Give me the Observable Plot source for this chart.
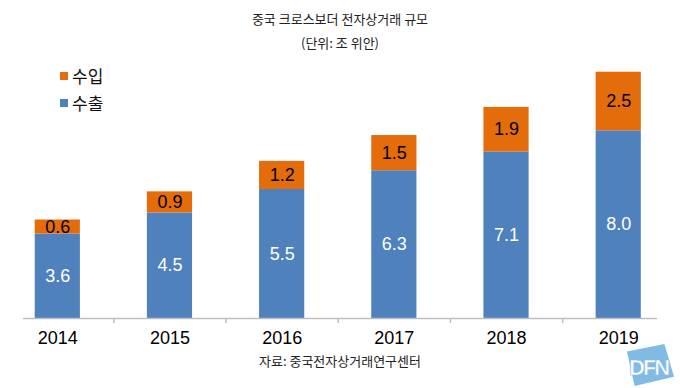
<!DOCTYPE html>
<html><head><meta charset="utf-8">
<script src="https://cdn.jsdelivr.net/npm/d3@7"></script>
<script src="https://cdn.jsdelivr.net/npm/@observablehq/plot@0.6"></script>
<style>
html,body{margin:0;padding:0;background:#fff;}
body{width:680px;height:388px;overflow:hidden;position:relative;font-family:"Noto Sans CJK KR","Noto Sans",sans-serif;}
#title{position:absolute;left:0;top:10px;width:680px;text-align:center;font-size:13px;line-height:18px;color:#222;}
#subtitle{position:absolute;left:0;top:34px;width:680px;text-align:center;font-size:13px;line-height:18px;color:#222;}
#chart{position:absolute;left:0;top:58px;}
#legend{position:absolute;left:60px;top:62px;font-size:17px;color:#111;}
#legend .item{height:27.5px;line-height:24px;display:flex;align-items:center;}
#legend .sw{width:8px;height:8px;margin-right:4px;}
#caption{position:absolute;left:0;top:352px;width:680px;text-align:center;font-size:13px;line-height:18px;color:#222;}
#logo{position:absolute;left:626px;top:344px;width:48px;height:42px;}
#logo .bg{position:absolute;inset:0;background:#80bbe6;clip-path:polygon(2% 18%,80% 0%,100% 78%,18% 100%);}
#logo .t{position:absolute;left:3px;top:11px;font-family:"Liberation Sans",sans-serif;font-weight:bold;font-size:22px;letter-spacing:-2px;color:#fff;-webkit-text-stroke:0.6px #80bbe6;}
</style></head>
<body>
<div id="title">중국 크로스보더 전자상거래 규모</div>
<div id="subtitle">(단위: 조 위안)</div>
<div id="chart"></div>
<div id="legend"></div>
<div id="caption">자료: 중국전자상거래연구센터</div>
<div id="logo"><div class="bg"></div><div class="t">DFN</div></div>
<script>
const years = [2014, 2015, 2016, 2017, 2018, 2019];
const exportValues = [3.6, 4.5, 5.5, 6.3, 7.1, 8.0];
const importValues = [0.6, 0.9, 1.2, 1.5, 1.9, 2.5];
const seriesNames = ["수출", "수입"];
const seriesColors = ["#4F81BD", "#E46C0A"];
const legendOrder = ["수입", "수출"];

const data = [
  ...years.map((y, i) => ({year: y, type: seriesNames[0], value: exportValues[i]})),
  ...years.map((y, i) => ({year: y, type: seriesNames[1], value: importValues[i]}))
];

const num = "'Liberation Sans', Arial, sans-serif";

const chart = Plot.plot({
  width: 680,
  height: 290,
  marginTop: 2,
  marginBottom: 30,
  marginLeft: 23,
  marginRight: 23,
  x: {domain: [years[0], years[years.length - 1] + 1], insetLeft: -21.8, insetRight: -17.3, label: null},
  y: {domain: [0, 11], axis: null, label: null},
  color: {domain: seriesNames, range: seriesColors},
  marks: [
    Plot.rectY(data, {x: "year", interval: 1, y: "value", fill: "type", insetLeft: 33.5, insetRight: 33.5}),
    Plot.text(data, Plot.stackY({
      x: d => d.year + 0.5, y: "value", z: "type",
      text: d => d.type === seriesNames[0] ? d.value.toFixed(1) : null,
      fill: "#ffffff", fontSize: 18, fontFamily: num
    })),
    Plot.text(data, Plot.stackY({
      x: d => d.year + 0.5, y: "value", z: "type",
      text: d => d.type === seriesNames[1] ? d.value.toFixed(1) : null,
      fill: "#000000", fontSize: 18, fontFamily: num
    })),
    Plot.ruleY([0], {stroke: "#bfbfbf", strokeWidth: 1.5}),
    Plot.axisX({ticks: years.slice(1), tickSize: 5, tickFormat: () => "", stroke: "#bfbfbf", strokeWidth: 1.5, label: null}),
    Plot.axisX({ticks: years.map(y => y + 0.5), tickSize: 0, tickPadding: 13, tickFormat: d => String(d - 0.5), fontSize: 18, fontFamily: num, fill: "#000", label: null})
  ]
});
document.getElementById("chart").appendChild(chart);

const legend = document.getElementById("legend");
legendOrder.forEach(name => {
  const item = document.createElement("div");
  item.className = "item";
  const sw = document.createElement("span");
  sw.className = "sw";
  sw.style.background = seriesColors[seriesNames.indexOf(name)];
  const lbl = document.createElement("span");
  lbl.textContent = name;
  item.appendChild(sw);
  item.appendChild(lbl);
  legend.appendChild(item);
});
</script>
</body></html>
